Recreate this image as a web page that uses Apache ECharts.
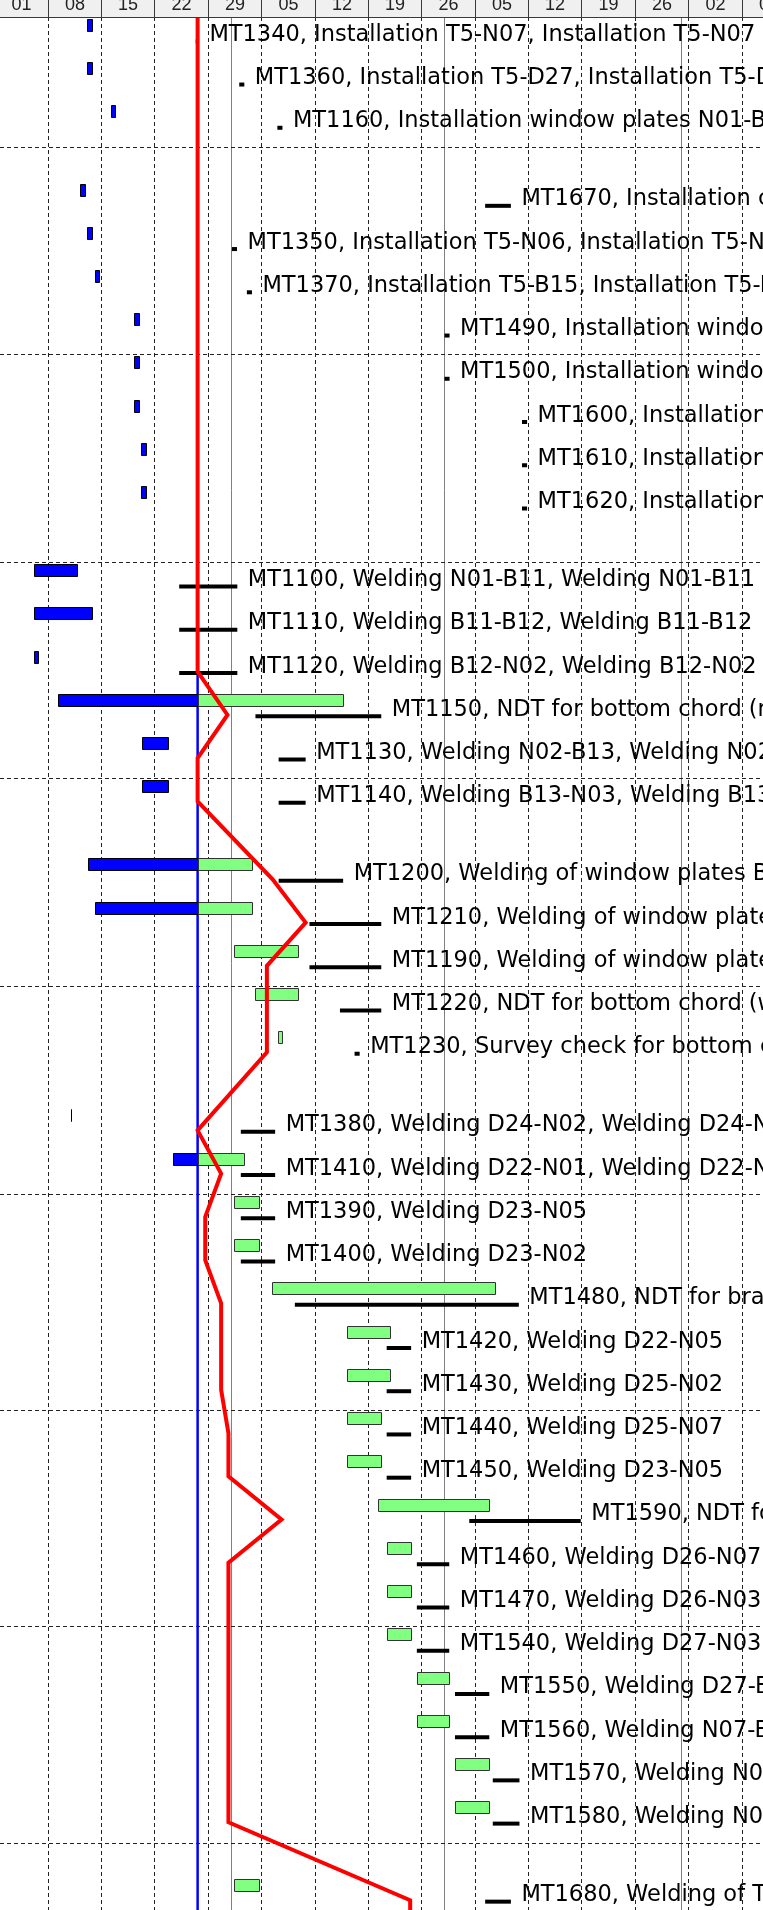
<!DOCTYPE html>
<html>
<head>
<meta charset="utf-8">
<script src="https://cdn.jsdelivr.net/npm/echarts@6/dist/echarts.min.js"></script>
<style>
  html, body { margin: 0; padding: 0; background: #fff; }
  #chart { width: 763px; height: 1910px; }
</style>
</head>
<body>
<div id="chart"></div>
<script>
// timescale header: week columns (Mondays) and their labels
const weekStarts = ['2018-01-01', '2018-01-08', '2018-01-15', '2018-01-22', '2018-01-29', '2018-02-05', '2018-02-12',
  '2018-02-19', '2018-02-26', '2018-03-05', '2018-03-12', '2018-03-19', '2018-03-26', '2018-04-02', '2018-04-09']
const weekLabels = ['01', '08', '15', '22', '29', '05', '12', '19', '26', '05', '12', '19', '26', '02', '09']
const monthStarts = ['2018-02-01', '2018-03-01', '2018-04-01']

const viewStart = '2018-01-01 18:00'
const viewEnd = '2018-04-11 19:30'
const statusDate = '2018-01-27 16:00'

// one entry per row, null = collapsed summary row
const taskLabels = [
  'MT1340, Installation T5-N07, Installation T5-N07',
  'MT1360, Installation T5-D27, Installation T5-D27',
  'MT1160, Installation window plates N01-B11, Installation window plates N01-B11',
  null,
  'MT1670, Installation cover plates T6, Installation cover plates T6',
  'MT1350, Installation T5-N06, Installation T5-N06',
  'MT1370, Installation T5-B15, Installation T5-B15',
  'MT1490, Installation window plates B13-N03, Installation window plates B13-N03',
  'MT1500, Installation window plates N03-B14, Installation window plates N03-B14',
  'MT1600, Installation window plates D26, Installation window plates D26',
  'MT1610, Installation window plates D27, Installation window plates D27',
  'MT1620, Installation window plates N07, Installation window plates N07',
  null,
  'MT1100, Welding N01-B11, Welding N01-B11',
  'MT1110, Welding B11-B12, Welding B11-B12',
  'MT1120, Welding B12-N02, Welding B12-N02',
  'MT1150, NDT for bottom chord (main welds), NDT for bottom chord (main welds)',
  'MT1130, Welding N02-B13, Welding N02-B13',
  'MT1140, Welding B13-N03, Welding B13-N03',
  null,
  'MT1200, Welding of window plates B11-B12, Welding of window plates B11-B12',
  'MT1210, Welding of window plates B12-N02, Welding of window plates B12-N02',
  'MT1190, Welding of window plates N01-B11, Welding of window plates N01-B11',
  'MT1220, NDT for bottom chord (window plates), NDT for bottom chord (window plates)',
  'MT1230, Survey check for bottom chord, Survey check for bottom chord',
  null,
  'MT1380, Welding D24-N02, Welding D24-N02',
  'MT1410, Welding D22-N01, Welding D22-N01',
  'MT1390, Welding D23-N05',
  'MT1400, Welding D23-N02',
  'MT1480, NDT for bracing',
  'MT1420, Welding D22-N05',
  'MT1430, Welding D25-N02',
  'MT1440, Welding D25-N07',
  'MT1450, Welding D23-N05',
  'MT1590, NDT for bracing',
  'MT1460, Welding D26-N07',
  'MT1470, Welding D26-N03',
  'MT1540, Welding D27-N03',
  'MT1550, Welding D27-B16',
  'MT1560, Welding N07-B16',
  'MT1570, Welding N07-B17',
  'MT1580, Welding N06-B17',
  null,
  'MT1680, Welding of T6 cover plates'
]
const taskStart = [
  '2018-01-13 05:00', '2018-01-13 05:00', '2018-01-16 08:00', null,
  '2018-01-12 06:00', '2018-01-13 05:00', '2018-01-14 04:00', '2018-01-19 08:00', '2018-01-19 08:00',
  '2018-01-19 08:00', '2018-01-20 07:00', '2018-01-20 07:00', null,
  '2018-01-06 06:00', '2018-01-06 06:00', '2018-01-06 06:00', '2018-01-09 07:00', '2018-01-20 09:00',
  '2018-01-20 09:00', null,
  '2018-01-13 08:00', '2018-01-14 06:00', '2018-02-01 10:00', '2018-02-04 06:00', '2018-02-07 05:00', null,
  '2018-01-11 02:00', '2018-01-24 09:00', '2018-02-01 10:00', '2018-02-01 10:00', '2018-02-06 09:00',
  '2018-02-16 07:00', '2018-02-16 07:00', '2018-02-16 07:00', '2018-02-16 07:00', '2018-02-20 09:00',
  '2018-02-21 11:00', '2018-02-21 11:00', '2018-02-21 11:00', '2018-02-25 11:00', '2018-02-25 11:00',
  '2018-03-02 10:00', '2018-03-02 10:00', null,
  '2018-02-01 10:00'
]
const taskFinish = [
  '2018-01-13 19:00', '2018-01-13 19:00', '2018-01-16 20:00', null,
  '2018-01-12 20:00', '2018-01-13 19:00', '2018-01-14 18:00', '2018-01-19 22:00', '2018-01-19 22:00',
  '2018-01-19 22:00', '2018-01-20 21:00', '2018-01-20 21:00', null,
  '2018-01-11 21:00', '2018-01-13 19:00', '2018-01-06 17:00', '2018-02-15 18:00', '2018-01-23 20:00',
  '2018-01-23 20:00', null,
  '2018-02-03 18:00', '2018-02-03 18:00', '2018-02-09 19:00', '2018-02-09 19:00', '2018-02-07 18:00', null,
  '2018-01-11 02:00', '2018-02-02 17:00', '2018-02-04 16:00', '2018-02-04 16:00', '2018-03-07 17:00',
  '2018-02-21 20:00', '2018-02-21 20:00', '2018-02-20 18:00', '2018-02-20 18:00', '2018-03-06 21:00',
  '2018-02-24 16:00', '2018-02-24 16:00', '2018-02-24 16:00', '2018-03-01 16:00', '2018-03-01 16:00',
  '2018-03-06 22:00', '2018-03-06 22:00', null,
  '2018-02-04 16:00'
]
const baseStart = [
  '2018-01-27 10:00', '2018-02-02 03:00', '2018-02-07 03:00', null,
  '2018-03-06 09:00', '2018-02-01 04:00', '2018-02-03 03:00', '2018-03-01 01:00', '2018-03-01 01:00',
  '2018-03-11 05:00', '2018-03-11 05:00', '2018-03-11 05:00', null,
  '2018-01-25 06:00', '2018-01-25 06:00', '2018-01-25 06:00', '2018-02-04 06:00', '2018-02-07 07:00',
  '2018-02-07 07:00', null,
  '2018-02-07 07:00', '2018-02-11 08:00', '2018-02-11 08:00', '2018-02-15 08:00', '2018-02-17 06:00', null,
  '2018-02-02 08:00', '2018-02-02 08:00', '2018-02-02 08:00', '2018-02-02 08:00', '2018-02-09 10:00',
  '2018-02-21 11:00', '2018-02-21 11:00', '2018-02-21 11:00', '2018-02-21 11:00', '2018-03-04 07:00',
  '2018-02-25 10:00', '2018-02-25 10:00', '2018-02-25 10:00', '2018-03-02 10:00', '2018-03-02 10:00',
  '2018-03-07 09:00', '2018-03-07 09:00', null,
  '2018-03-06 09:00'
]
const baseFinish = [
  '2018-01-27 20:00', '2018-02-02 19:00', '2018-02-07 19:00', null,
  '2018-03-09 18:00', '2018-02-01 20:00', '2018-02-03 19:00', '2018-03-01 17:00', '2018-03-01 17:00',
  '2018-03-11 21:00', '2018-03-11 21:00', '2018-03-11 21:00', null,
  '2018-02-01 21:00', '2018-02-01 21:00', '2018-02-01 21:00', '2018-02-20 18:00', '2018-02-10 20:00',
  '2018-02-10 20:00', null,
  '2018-02-15 18:00', '2018-02-20 18:00', '2018-02-20 18:00', '2018-02-20 18:00', '2018-02-17 22:00', null,
  '2018-02-06 20:00', '2018-02-06 20:00', '2018-02-06 20:00', '2018-02-06 20:00', '2018-03-10 19:00',
  '2018-02-24 16:00', '2018-02-24 16:00', '2018-02-24 16:00', '2018-02-24 16:00', '2018-03-18 22:00',
  '2018-03-01 16:00', '2018-03-01 16:00', '2018-03-01 16:00', '2018-03-06 22:00', '2018-03-06 22:00',
  '2018-03-10 21:00', '2018-03-10 21:00', null,
  '2018-03-09 18:00'
]
// progress line point of each row
const progressAt = [
  '2018-01-27 16:00', '2018-01-27 16:00', '2018-01-27 16:00', null,
  '2018-01-27 16:00', '2018-01-27 16:00', '2018-01-27 16:00', '2018-01-27 16:00', '2018-01-27 16:00',
  '2018-01-27 16:00', '2018-01-27 16:00', '2018-01-27 16:00', null,
  '2018-01-27 16:00', '2018-01-27 16:00', '2018-01-27 16:00', '2018-01-31 14:00', '2018-01-27 16:00',
  '2018-01-27 16:00', null,
  '2018-02-06 12:00', '2018-02-10 20:00', '2018-02-05 18:00', '2018-02-05 18:00', '2018-02-05 18:00', null,
  '2018-01-27 16:00', '2018-01-30 18:00', '2018-01-28 16:00', '2018-01-28 16:00', '2018-01-30 18:00',
  '2018-01-30 18:00', '2018-01-30 18:00', '2018-01-31 17:00', '2018-01-31 17:00', '2018-02-07 16:00',
  '2018-01-31 17:00', '2018-01-31 17:00', '2018-01-31 17:00', '2018-01-31 17:00', '2018-01-31 17:00',
  '2018-01-31 17:00', '2018-01-31 17:00', null,
  '2018-02-24 13:00'
]
// rows just outside the view, the progress line runs on into them
const progressBefore = '2018-01-27 16:00'
const progressAfter = '2018-02-24 13:00'

// layout
const SUMMARY_ROW = 0.805   // collapsed rows are a bit lower than task rows
const FIRST_ROW_NO = 2      // dashed separator every 5 rows
const Y_MAX = 43.78
const HEADER_H = 17
const FONT = '"DejaVu Sans", Verdana, sans-serif'

const T0 = Date.UTC(2018, 0, 1)
const toDay = s => {
  const iso = s.length > 10 ? s.replace(' ', 'T') + ':00Z' : s + 'T00:00:00Z'
  return (Date.parse(iso) - T0) / 864e5
}
const statusDay = toDay(statusDate)

const rowTop = []
let acc = 0
taskLabels.forEach(t => {
  rowTop.push(acc)
  acc += t === null ? SUMMARY_ROW : 1
})

const taskItems = []
const progressData = [[toDay(progressBefore), -1 + 0.53]]
taskLabels.forEach((t, i) => {
  if (t === null) return
  taskItems.push({
    name: t,
    value: [toDay(taskStart[i]), toDay(taskFinish[i]), toDay(baseStart[i]), toDay(baseFinish[i]), rowTop[i]]
  })
  progressData.push([toDay(progressAt[i]), rowTop[i] + 0.53])
})
progressData.push([toDay(progressAfter), acc + 0.53])

const crisp = v => Math.round(v) + 0.5

// background lines: weeks, months, row bands, status date
const renderGrid = (params, api) => {
  const cs = params.coordSys
  const y0 = cs.y, y1 = cs.y + cs.height
  const children = []
  weekStarts.forEach(w => {
    const x = crisp(api.coord([toDay(w), 0])[0])
    children.push({ type: 'line', shape: { x1: x, y1: y0, x2: x, y2: y1 },
      style: { stroke: '#222', lineWidth: 1, lineDash: [4, 3] } })
  })
  monthStarts.forEach(m => {
    const x = crisp(api.coord([toDay(m), 0])[0])
    children.push({ type: 'line', shape: { x1: x, y1: y0, x2: x, y2: y1 },
      style: { stroke: '#808080', lineWidth: 1 } })
  })
  rowTop.forEach((top, i) => {
    if ((FIRST_ROW_NO + i) % 5 !== 0) return
    const y = crisp(api.coord([statusDay, top])[1])
    children.push({ type: 'line', shape: { x1: cs.x, y1: y, x2: cs.x + cs.width, y2: y },
      style: { stroke: '#222', lineWidth: 1, lineDash: [4, 3] } })
  })
  const xs = api.coord([statusDay, 0])[0]
  children.push({ type: 'line', shape: { x1: xs, y1: y0, x2: xs, y2: y1 },
    style: { stroke: '#0000ff', lineWidth: 2.5 } })
  return { type: 'group', children }
}

const barRect = (x0, x1, y, h, fill, stroke) => ({
  type: 'rect',
  shape: { x: crisp(x0), y: y, width: Math.max(0, Math.round(x1) - Math.round(x0)), height: h },
  style: { fill, stroke, lineWidth: 1 }
})

const renderTask = (params, api) => {
  const s = api.value(0), f = api.value(1), bs = api.value(2), bf = api.value(3), top = api.value(4)
  const yTop = api.coord([s, top])[1]
  const x = d => api.coord([d, top])[0]
  const barY = Math.round(yTop) + 2.5
  const children = []
  if (s <= statusDay) {
    children.push(barRect(x(s), x(Math.min(f, statusDay)), barY, 12, '#0000ff', '#000'))
  }
  if (f > statusDay) {
    children.push(barRect(x(Math.max(s, statusDay)), x(f), barY, 12, '#80ff80', '#333'))
  }
  children.push({ type: 'rect',
    shape: { x: x(bs), y: yTop + 22.3, width: x(bf) - x(bs), height: 4 },
    style: { fill: '#000' } })
  children.push({ type: 'text',
    style: { text: taskItems[params.dataIndex].name, x: x(bf) + 10.5, y: yTop + 18,
      font: '22.5px ' + FONT, fill: '#000', align: 'left', verticalAlign: 'middle' } })
  return { type: 'group', children }
}

const renderWeek = (params, api) => {
  const ws = api.value(0)
  const cs = params.coordSys
  const xa = crisp(api.coord([ws, 0])[0])
  const xb = crisp(api.coord([ws + 7, 0])[0])
  const yb = cs.y + cs.height - 0.5
  return { type: 'group', children: [
    { type: 'rect', shape: { x: xa, y: cs.y, width: xb - xa, height: cs.height }, style: { fill: '#f0f0f0' } },
    { type: 'line', shape: { x1: xa, y1: cs.y, x2: xa, y2: cs.y + cs.height }, style: { stroke: '#3a3a3a', lineWidth: 1 } },
    { type: 'line', shape: { x1: xa, y1: yb, x2: xb, y2: yb }, style: { stroke: '#3a3a3a', lineWidth: 1 } },
    { type: 'text', style: { text: weekLabels[params.dataIndex], x: (xa + xb) / 2, y: cs.y + 5.3,
      font: '18px "Liberation Sans", Arial, sans-serif', fill: '#222', align: 'center', verticalAlign: 'middle' } }
  ] }
}

const chart = echarts.init(document.getElementById('chart'), null, { renderer: 'canvas' })

const hiddenAxis = { axisLine: { show: false }, axisTick: { show: false }, axisLabel: { show: false }, splitLine: { show: false } }

chart.setOption({
  animation: false,
  backgroundColor: '#fff',
  grid: [
    { left: 0, right: 0, top: HEADER_H, bottom: 0 },
    { left: 0, right: 0, top: 0, height: HEADER_H + 1 }
  ],
  xAxis: [
    { type: 'value', gridIndex: 0, min: toDay(viewStart), max: toDay(viewEnd), ...hiddenAxis },
    { type: 'value', gridIndex: 1, min: toDay(viewStart), max: toDay(viewEnd), ...hiddenAxis }
  ],
  yAxis: [
    { type: 'value', gridIndex: 0, inverse: true, min: 0, max: Y_MAX, ...hiddenAxis },
    { type: 'value', gridIndex: 1, inverse: true, min: 0, max: 1, ...hiddenAxis }
  ],
  series: [
    { type: 'custom', name: 'grid', xAxisIndex: 0, yAxisIndex: 0, z: 1, clip: true, silent: true,
      data: [[statusDay, 0]], renderItem: renderGrid },
    { type: 'custom', name: 'tasks', xAxisIndex: 0, yAxisIndex: 0, z: 3, clip: true, silent: true,
      data: taskItems, encode: { x: [0, 1, 2, 3], y: 4 }, renderItem: renderTask },
    { type: 'line', name: 'progress', xAxisIndex: 0, yAxisIndex: 0, z: 5, clip: true, silent: true,
      data: progressData, symbol: 'none', lineStyle: { color: '#ff0000', width: 4, join: 'miter' } },
    { type: 'custom', name: 'header', xAxisIndex: 1, yAxisIndex: 1, z: 6, clip: true, silent: true,
      data: weekStarts.map(w => [toDay(w), 0]), renderItem: renderWeek }
  ]
})

window.addEventListener('resize', () => chart.resize())
</script>
</body>
</html>
